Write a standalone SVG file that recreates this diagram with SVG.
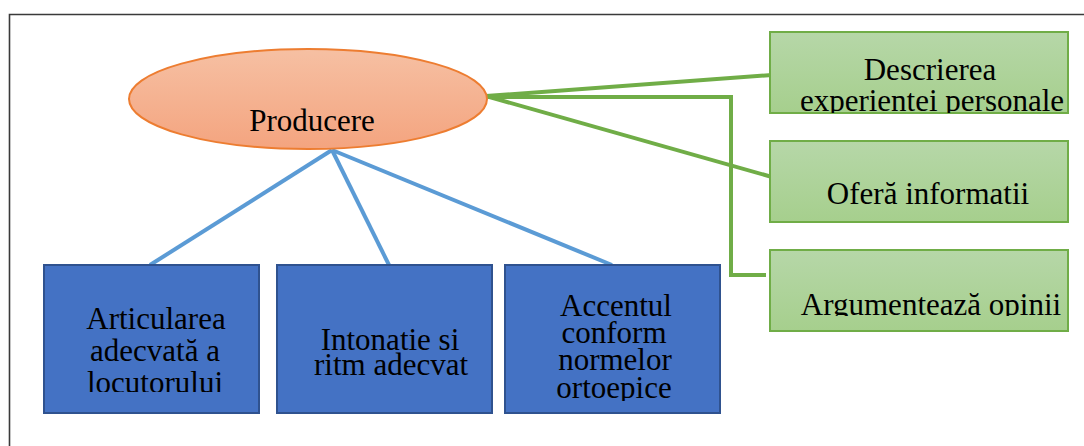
<svg xmlns="http://www.w3.org/2000/svg" width="1084" height="446" viewBox="0 0 1084 446">
  <style>
    .t { font-family: "Liberation Serif", "Times New Roman", serif; font-size: 31px; fill: #000; text-anchor: middle; }
    .blue { fill: #4472C4; stroke: #2F528F; stroke-width: 2; }
    .green { fill: url(#gGreen); stroke: #70AD47; stroke-width: 2; }
    .lb { stroke: #5B9BD5; stroke-width: 4; fill: none; }
    .lg { stroke: #70AD47; stroke-width: 4; fill: none; }
  </style>
  <defs>
    <linearGradient id="gOrange" x1="0" y1="0" x2="0" y2="1">
      <stop offset="0" stop-color="#F6C0A3"/>
      <stop offset="1" stop-color="#F4A47F"/>
    </linearGradient>
    <linearGradient id="gGreen" x1="0" y1="0" x2="0" y2="1">
      <stop offset="0" stop-color="#B6D7A8"/>
      <stop offset="1" stop-color="#A6CF8D"/>
    </linearGradient>
    <clipPath id="cG1"><rect x="770" y="32" width="300" height="81"/></clipPath>
    <clipPath id="cG3"><rect x="770" y="250" width="300" height="66"/></clipPath>
    <clipPath id="cB1"><rect x="44" y="265" width="215" height="127"/></clipPath>
    <clipPath id="cB3"><rect x="505" y="265" width="215" height="136"/></clipPath>
  </defs>

  <rect width="1084" height="446" fill="#fff"/>
  <!-- outer frame -->
  <path d="M9.5,446 V14.5 H1084" fill="none" stroke="#3a3a3a" stroke-width="1.6"/>

  <!-- connectors -->
  <g id="connectors">
    <line class="lb" x1="332" y1="150" x2="150" y2="265"/>
    <line class="lb" x1="332" y1="150" x2="389" y2="265"/>
    <line class="lb" x1="332" y1="150" x2="612" y2="265"/>
    <line class="lg" x1="486" y1="96" x2="772" y2="75"/>
    <line class="lg" x1="486" y1="96" x2="772" y2="177"/>
    <polyline class="lg" points="486,97 731,97 731,275 766,275"/>
  </g>

  <g id="producere">
    <ellipse cx="308" cy="99" rx="179" ry="50" fill="url(#gOrange)" stroke="#ED7D31" stroke-width="2"/>
    <text class="t" x="312" y="131">Producere</text>
  </g>

  <g id="descrierea">
    <rect class="green" x="770" y="32" width="298" height="81"/>
    <g clip-path="url(#cG1)">
      <text class="t" x="930" y="80">Descrierea</text>
      <text class="t" x="932" y="111">experientei personale</text>
    </g>
  </g>

  <g id="ofera">
    <rect class="green" x="770" y="141" width="298" height="81"/>
    <text class="t" x="928" y="204">Oferă informatii</text>
  </g>

  <g id="argumenteaza">
    <rect class="green" x="770" y="250" width="298" height="81"/>
    <g clip-path="url(#cG3)">
      <text class="t" x="931" y="315">Argumentează opinii</text>
    </g>
  </g>

  <g id="articularea">
    <rect class="blue" x="44" y="265" width="215" height="148"/>
    <g clip-path="url(#cB1)">
      <text class="t" x="156" y="329">Articularea</text>
      <text class="t" x="155" y="361">adecvată a</text>
      <text class="t" x="155" y="393">locutorului</text>
    </g>
  </g>

  <g id="intonatie">
    <rect class="blue" x="277" y="265" width="215" height="148"/>
    <text class="t" x="390" y="350">Intonatie si</text>
    <text class="t" x="391" y="375">ritm adecvat</text>
  </g>

  <g id="accentul">
    <rect class="blue" x="505" y="265" width="215" height="148"/>
    <g clip-path="url(#cB3)">
      <text class="t" x="616" y="316">Accentul</text>
      <text class="t" x="614" y="343">conform</text>
      <text class="t" x="615" y="370">normelor</text>
      <text class="t" x="614" y="398">ortoepice</text>
    </g>
  </g>
</svg>
